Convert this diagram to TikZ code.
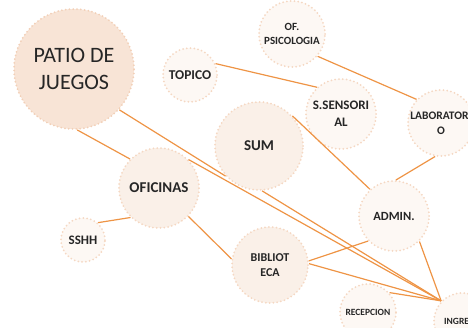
\documentclass[tikz,border=0pt]{standalone}
\usepackage{fontspec}
\setmainfont{Carlito}
\usepackage{tikz}
\usepackage{xcolor}
\usetikzlibrary{positioning}
\definecolor{ink}{HTML}{262626}
\definecolor{patiofill}{HTML}{F8E4D6}
\definecolor{midfill}{HTML}{FAF0E8}
\definecolor{lightfill}{HTML}{FDF8F4}
\definecolor{rim}{HTML}{F5D8C3}
\definecolor{rimdark}{HTML}{F2D0B8}
\definecolor{wire}{HTML}{EE9445}
\tikzset{
  bubble/.style={circle,draw=rim,line width=2pt,dash pattern=on 0pt off 3.8pt,
                 line cap=round,inner sep=0pt,align=center,text=ink},
  bigbub/.style={bubble,fill=patiofill,draw=rimdark,font=\fontsize{22}{27}\selectfont},
  midbub/.style={bubble,fill=midfill,font=\bfseries\fontsize{15}{18}\selectfont},
  smallbub/.style={bubble,fill=lightfill,font=\bfseries\fontsize{13}{17}\selectfont},
  link/.style={draw=wire,line width=1.2pt}
}

\begin{document}
\begin{tikzpicture}[x=1pt,y=-1pt]
  \useasboundingbox (0,0) rectangle (468,327);
  % big and medium rooms
  \node[bigbub,minimum size=120pt] (patio) at (74,69) {PATIO DE\\JUEGOS};
  \node[midbub,minimum size=88pt] (sum) at (259,146) {SUM};
  \node[midbub,minimum size=80pt] (oficinas) at (159,188) {OFICINAS};
  \node[midbub,minimum size=76pt,font=\bfseries\fontsize{12}{15}\selectfont] (biblio) at (270,265) {BIBLIOT\\ECA};
  % small rooms
  \node[smallbub,minimum size=54pt,font=\bfseries\fontsize{13.5}{17}\selectfont] (topico) at (190,75) {TOPICO};
  \node[smallbub,minimum size=66pt,font=\bfseries\fontsize{11}{13.5}\selectfont] (ofpsico) at (292,34) {OF.\\PSICOLOGIA};
  \node[smallbub,minimum size=70pt] (ssens) at (341,114) {S.SENSORI\\AL};
  \node[smallbub,minimum size=66pt,font=\bfseries\fontsize{11.5}{15}\selectfont] (lab) at (441,123) {LABORATORI\\O};
  \node[smallbub,minimum size=70pt,font=\bfseries\fontsize{12.5}{15}\selectfont] (admin) at (394,216) {ADMIN.};
  \node[smallbub,minimum size=44pt] (sshh) at (83,240) {SSHH};
  \node[smallbub,minimum size=56pt,font=\bfseries\fontsize{9.5}{12}\selectfont] (recep) at (368,312) {RECEPCION};
  \node[smallbub,minimum size=56pt,font=\bfseries\fontsize{9.5}{12}\selectfont] (ingreso) at (462,321) {INGRESO};
  % connectors
  \foreach \from/\to in {topico.24/ssens.132, ofpsico.-41/lab.136, sum.42/admin.132,
      lab.-100/admin.87, patio.-87/oficinas.135, patio.-42/sum.-138,
      oficinas.44/ingreso.136, sum.-86/ingreso.136, oficinas.-134/sshh.49,
      oficinas.-44/biblio.171, biblio.6/admin.-136, biblio.2/ingreso.136,
      admin.-45/ingreso.136, recep.42/ingreso.136}
    \draw[link] (\from) -- (\to);
\end{tikzpicture}
\end{document}
